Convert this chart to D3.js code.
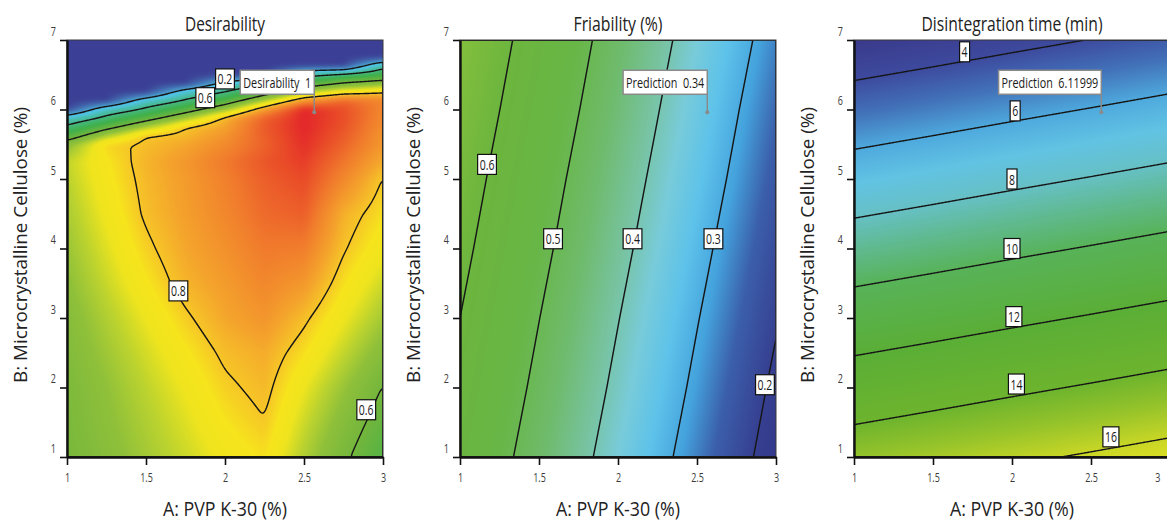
<!DOCTYPE html>
<html><head><meta charset="utf-8">
<script src="https://cdn.jsdelivr.net/npm/d3@7/dist/d3.min.js"></script>
<style>
html,body{margin:0;padding:0;background:#fff;}
svg{display:block;font-family:"Open Sans","Noto Sans",sans-serif;}
</style></head>
<body>
<svg id="chart" width="1167" height="523"></svg>
<script>
// ---------------- data ----------------
const xTicks = [1, 1.5, 2, 2.5, 3];
const yTicks = [1, 2, 3, 4, 5, 6, 7];
const panelTitles = ["Desirability", "Friability (%)", "Disintegration time (min)"];
const xTitle = "A: PVP K-30 (%)";
const yTitle = "B: Microcrystalline Cellulose (%)";

// Desirability surface (rows: B values, columns: A values)
const desX = [1, 1.25, 1.5, 1.75, 2, 2.25, 2.5, 2.75, 3];
const desY = [1, 1.5, 2, 2.5, 3, 3.5, 4, 4.5, 5, 5.25, 5.5, 5.625, 5.75, 5.875, 6, 6.125, 6.25, 6.375, 6.5, 6.625, 6.75, 7];
const desZ = [
  [0.610, 0.644, 0.679, 0.713, 0.750, 0.775, 0.692, 0.613, 0.540],
  [0.615, 0.653, 0.690, 0.728, 0.770, 0.798, 0.715, 0.640, 0.570],
  [0.620, 0.661, 0.703, 0.744, 0.790, 0.815, 0.741, 0.670, 0.597],
  [0.630, 0.675, 0.720, 0.766, 0.810, 0.830, 0.776, 0.708, 0.640],
  [0.640, 0.691, 0.741, 0.792, 0.835, 0.860, 0.810, 0.744, 0.680],
  [0.655, 0.711, 0.767, 0.820, 0.850, 0.880, 0.855, 0.776, 0.715],
  [0.670, 0.729, 0.789, 0.835, 0.865, 0.900, 0.895, 0.805, 0.750],
  [0.685, 0.746, 0.808, 0.845, 0.880, 0.920, 0.935, 0.825, 0.775],
  [0.700, 0.761, 0.815, 0.850, 0.890, 0.935, 0.960, 0.880, 0.797],
  [0.707, 0.767, 0.820, 0.855, 0.900, 0.945, 0.975, 0.905, 0.830],
  [0.650, 0.785, 0.810, 0.835, 0.875, 0.930, 0.990, 0.930, 0.855],
  [0.537, 0.690, 0.800, 0.815, 0.860, 0.935, 0.995, 0.940, 0.860],
  [0.423, 0.563, 0.689, 0.800, 0.840, 0.940, 1.000, 0.950, 0.870],
  [0.308, 0.438, 0.558, 0.682, 0.820, 0.930, 1.000, 0.955, 0.875],
  [0.000, 0.313, 0.429, 0.550, 0.678, 0.851, 1.000, 0.955, 0.880],
  [0.000, 0.000, 0.300, 0.420, 0.540, 0.695, 0.859, 0.924, 0.885],
  [0.000, 0.000, 0.000, 0.293, 0.410, 0.549, 0.694, 0.765, 0.797],
  [0.000, 0.000, 0.000, 0.000, 0.250, 0.403, 0.530, 0.610, 0.653],
  [0.000, 0.000, 0.000, 0.000, 0.000, 0.000, 0.368, 0.456, 0.508],
  [0.000, 0.000, 0.000, 0.000, 0.000, 0.000, 0.000, 0.000, 0.364],
  [0.000, 0.000, 0.000, 0.000, 0.000, 0.000, 0.000, 0.000, 0.000],
  [0.000, 0.000, 0.000, 0.000, 0.000, 0.000, 0.000, 0.000, 0.000]
];
const desLevels = [0.2, 0.4, 0.6, 0.8];

// Friability (%)
const friX = [1, 1.5, 2, 2.5, 3];
const friY = [1, 2, 3, 4, 5, 6, 7];
const friZ = [
  [0.567, 0.468, 0.369, 0.270, 0.172],
  [0.584, 0.485, 0.386, 0.287, 0.188],
  [0.600, 0.501, 0.402, 0.303, 0.205],
  [0.617, 0.518, 0.419, 0.320, 0.221],
  [0.633, 0.534, 0.435, 0.337, 0.238],
  [0.650, 0.551, 0.452, 0.353, 0.254],
  [0.666, 0.567, 0.468, 0.370, 0.271]
];
const friLevels = [0.2, 0.3, 0.4, 0.5, 0.6];

// Disintegration time (min)
const dtX = [1, 1.5, 2, 2.5, 3];
const dtY = [1, 2, 3, 4, 5, 6, 7];
const dtZ = [
  [14.94, 15.34, 15.75, 16.15, 16.56],
  [12.92, 13.32, 13.73, 14.13, 14.54],
  [10.90, 11.30, 11.71, 12.11, 12.52],
  [8.88, 9.28, 9.69, 10.09, 10.50],
  [6.86, 7.26, 7.67, 8.07, 8.48],
  [4.84, 5.24, 5.65, 6.05, 6.46],
  [2.82, 3.22, 3.63, 4.03, 4.44]
];
const dtLevels = [4, 6, 8, 10, 12, 14, 16];

// optimum / prediction point
const predA = 2.565, predB = 5.96;
const predNames = ["Desirability", "Prediction", "Prediction"];
const predValues = ["1", "0.34", "6.11999"];

// contour label anchors (text, A, B)
const desLabels = [["0.2", 2.0, 6.44], ["0.6", 1.875, 6.17], ["0.8", 1.705, 3.39], ["0.6", 2.894, 1.68]];
const friLabels = [["0.6", 1.171, 5.21], ["0.5", 1.589, 4.14], ["0.4", 2.092, 4.14], ["0.3", 2.604, 4.14], ["0.2", 2.93, 2.04]];
const dtLabels = [["4", 1.70, 6.83], ["6", 2.02, 5.98], ["8", 2.0, 5.0], ["10", 2.0, 4.0], ["12", 2.012, 3.02], ["14", 2.028, 2.05], ["16", 2.626, 1.29]];

// colour ramps
const desStops = [0, 0.25, 0.5, 0.6, 0.66, 0.70, 0.74, 0.77, 0.80, 0.84, 0.9, 0.96, 1];
const desColors = ["#3b3f95", "#4fc4e4", "#3fb04a", "#74b63c", "#8fc03a", "#b9d22f", "#eee41e", "#f6e41c", "#f6c627", "#f4a22c", "#f07a2c", "#e94a28", "#e3262a"];
const friStops = [0.15, 0.20, 0.25, 0.29, 0.33, 0.37, 0.41, 0.46, 0.52, 0.60, 0.68];
const friColors = ["#30358a", "#363f90", "#3b5fab", "#44a2dc", "#5dc2ea", "#78cbd9", "#78c3a2", "#6fbb6e", "#68b646", "#6cb53e", "#88c13c"];
const dtStops = [2.5, 4, 5, 6, 7, 8, 9, 10, 12, 14, 15, 16, 17];
const dtColors = ["#3a3585", "#3d4a9e", "#4272b9", "#4ea9dd", "#62c3e3", "#66c0c4", "#5fb98c", "#58b359", "#5aae36", "#6db42e", "#95c32a", "#c8d626", "#e8e421"];

// ---------------- drawing ----------------
const svg = d3.select("#chart");
const W = 316, H = 417, T = 40;
const panels = [
  {left: 67, X: desX, Y: desY, Z: desZ, levels: desLevels, stops: desStops, colors: desColors, labels: desLabels, title: panelTitles[0], titleW: 80, blur: 3},
  {left: 460, X: friX, Y: friY, Z: friZ, levels: friLevels, stops: friStops, colors: friColors, labels: friLabels, title: panelTitles[1], titleW: 89, blur: 0},
  {left: 854, X: dtX, Y: dtY, Z: dtZ, levels: dtLevels, stops: dtStops, colors: dtColors, labels: dtLabels, title: panelTitles[2], titleW: 181, blur: 0}
];

function sampler(X, Y, Z) {
  return (x, y) => {
    let i = d3.bisectRight(X, x) - 1; i = Math.max(0, Math.min(X.length - 2, i));
    let j = d3.bisectRight(Y, y) - 1; j = Math.max(0, Math.min(Y.length - 2, j));
    const tx = Math.max(0, Math.min(1, (x - X[i]) / (X[i + 1] - X[i])));
    const ty = Math.max(0, Math.min(1, (y - Y[j]) / (Y[j + 1] - Y[j])));
    const a = Z[j][i], b = Z[j][i + 1], c = Z[j + 1][i], d = Z[j + 1][i + 1];
    return a * (1 - tx) * (1 - ty) + b * tx * (1 - ty) + c * (1 - tx) * ty + d * tx * ty;
  };
}
function boxBlur(a, w, h, r) {
  const tmp = new Float64Array(a.length);
  for (let y = 0; y < h; y++) for (let x = 0; x < w; x++) {
    let s = 0;
    for (let k = -r; k <= r; k++) s += a[y * w + Math.min(w - 1, Math.max(0, x + k))];
    tmp[y * w + x] = s / (2 * r + 1);
  }
  for (let x = 0; x < w; x++) for (let y = 0; y < h; y++) {
    let s = 0;
    for (let k = -r; k <= r; k++) s += tmp[Math.min(h - 1, Math.max(0, y + k)) * w + x];
    a[y * w + x] = s / (2 * r + 1);
  }
}
function condense(sel, k) {
  sel.each(function () {
    const w = this.getComputedTextLength();
    this.setAttribute("textLength", w * k);
    this.setAttribute("lengthAdjust", "spacingAndGlyphs");
  });
}
function fitWidth(sel, w) {
  sel.attr("textLength", w).attr("lengthAdjust", "spacingAndGlyphs");
}

panels.forEach((p, k) => {
  const L = p.left;
  const xs = d3.scaleLinear().domain([1, 3]).range([L, L + W]);
  const ys = d3.scaleLinear().domain([1, 7]).range([T + H, T]);
  const f = sampler(p.X, p.Y, p.Z);
  const color = d3.scaleLinear().domain(p.stops).range(p.colors).interpolate(d3.interpolateRgb).clamp(true);
  const lo = p.stops[0], hi = p.stops[p.stops.length - 1];
  const N = 1024, lut = [];
  for (let n = 0; n < N; n++) { const c = d3.rgb(color(lo + (hi - lo) * n / (N - 1))); lut.push([c.r, c.g, c.b]); }

  // sampled field at pixel centres
  const field = new Float64Array(W * H);
  for (let py = 0; py < H; py++) {
    const y = ys.invert(T + py + 0.5);
    for (let px = 0; px < W; px++) field[py * W + px] = f(xs.invert(L + px + 0.5), y);
  }
  if (p.blur) { boxBlur(field, W, H, p.blur); boxBlur(field, W, H, p.blur); }

  const g = svg.append("g");
  const cv = document.createElement("canvas"); cv.width = W; cv.height = H;
  const ctx = cv.getContext("2d"); const img = ctx.createImageData(W, H);
  for (let q = 0; q < W * H; q++) {
    let n = Math.round((field[q] - lo) / (hi - lo) * (N - 1)); n = Math.max(0, Math.min(N - 1, n));
    const c = lut[n], o = q * 4;
    img.data[o] = c[0]; img.data[o + 1] = c[1]; img.data[o + 2] = c[2]; img.data[o + 3] = 255;
  }
  ctx.putImageData(img, 0, 0);
  g.append("image").attr("x", L).attr("y", T).attr("width", W).attr("height", H)
    .attr("preserveAspectRatio", "none").attr("href", cv.toDataURL());

  // contours
  const cs = d3.contours().size([W, H]).thresholds(p.levels)(field);
  const proj = d3.geoTransform({ point(x, y) { this.stream.point(L + x, T + y); } });
  const path = d3.geoPath(proj);
  svg.append("clipPath").attr("id", "clip" + k).append("rect").attr("x", L).attr("y", T).attr("width", W).attr("height", H);
  g.append("g").attr("clip-path", `url(#clip${k})`).selectAll("path").data(cs).join("path")
    .attr("d", path).attr("fill", "none").attr("stroke", "#161616").attr("stroke-width", 1.4);

  // frame
  g.append("rect").attr("x", L).attr("y", T).attr("width", W).attr("height", H)
    .attr("fill", "none").attr("stroke", "#3a3a3a").attr("stroke-width", 1);

  // axes
  const ax = g.append("g").attr("transform", `translate(0,${T + H})`)
    .call(d3.axisBottom(xs).tickValues(xTicks).tickSize(8).tickSizeOuter(0).tickPadding(8).tickFormat(d3.format("~g")));
  const ay = g.append("g").attr("transform", `translate(${L},0)`)
    .call(d3.axisLeft(ys).tickValues(yTicks).tickSize(7).tickSizeOuter(0).tickPadding(4).tickFormat(d3.format("~g")));
  [ax, ay].forEach(a => {
    a.attr("font-family", null).attr("font-size", null);
    a.select(".domain").attr("stroke", "#111").attr("stroke-width", 2.4);
    a.selectAll(".tick line").attr("stroke", "#111").attr("stroke-width", 1.6);
    a.selectAll(".tick text").attr("fill", "#3a3a3a").attr("font-size", 12.5).call(condense, 0.72);
  });
  ay.selectAll(".tick text").attr("dy", -5);
  if (L + W > 1160) {
    // keep the last tick label inside the window
    ax.selectAll(".tick text").filter(d => d === xTicks[xTicks.length - 1])
      .attr("text-anchor", "end").attr("x", 1160 - xs(xTicks[xTicks.length - 1]));
  }

  // contour labels
  p.labels.forEach(([t, a, b]) => {
    const cx = xs(a), cy = ys(b);
    const lg = g.append("g");
    const tx = lg.append("text").attr("x", cx).attr("y", cy + 5.5).attr("text-anchor", "middle")
      .attr("font-size", 15).attr("fill", "#1a1a1a").text(t);
    condense(tx, 0.7);
    const w = +tx.attr("textLength");
    lg.insert("rect", "text").attr("x", cx - w / 2 - 2).attr("y", cy - 10).attr("width", w + 4).attr("height", 20)
      .attr("fill", "#fff").attr("stroke", "#111").attr("stroke-width", 1.2);
  });

  // prediction flag
  const px = xs(predA), py = ys(predB);
  const fg = g.append("g");
  fg.append("line").attr("x1", px).attr("x2", px).attr("y1", py - 18).attr("y2", py)
    .attr("stroke", "#8a8a8a").attr("stroke-width", 1.5);
  fg.append("circle").attr("cx", px).attr("cy", py).attr("r", 2).attr("fill", "#8a8a8a");
  const ft = fg.append("text").attr("y", py - 24.5).attr("font-size", 15).attr("fill", "#1a1a1a")
    .attr("text-anchor", "end").attr("x", px - 3).text(predNames[k] + "  " + predValues[k]).style("white-space", "pre");
  condense(ft, 0.72);
  const fw = +ft.attr("textLength");
  fg.insert("rect", "text").attr("x", px - fw - 6).attr("y", py - 42).attr("width", fw + 6).attr("height", 24)
    .attr("fill", "#fff").attr("stroke", "#8a8a8a").attr("stroke-width", 1.5);

  // titles
  g.append("text").attr("x", L + W / 2).attr("y", 31).attr("text-anchor", "middle").attr("font-size", 20)
    .attr("fill", "#222").text(p.title).call(fitWidth, p.titleW);
  g.append("text").attr("x", L + W / 2).attr("y", 516).attr("text-anchor", "middle").attr("font-size", 20)
    .attr("fill", "#222").text(xTitle).call(fitWidth, 124);
  g.append("text").attr("transform", `translate(${L - 40},245) rotate(-90)`).attr("text-anchor", "middle")
    .attr("font-size", 19).attr("fill", "#222").text(yTitle).call(fitWidth, 276);
});
</script>
</body></html>
